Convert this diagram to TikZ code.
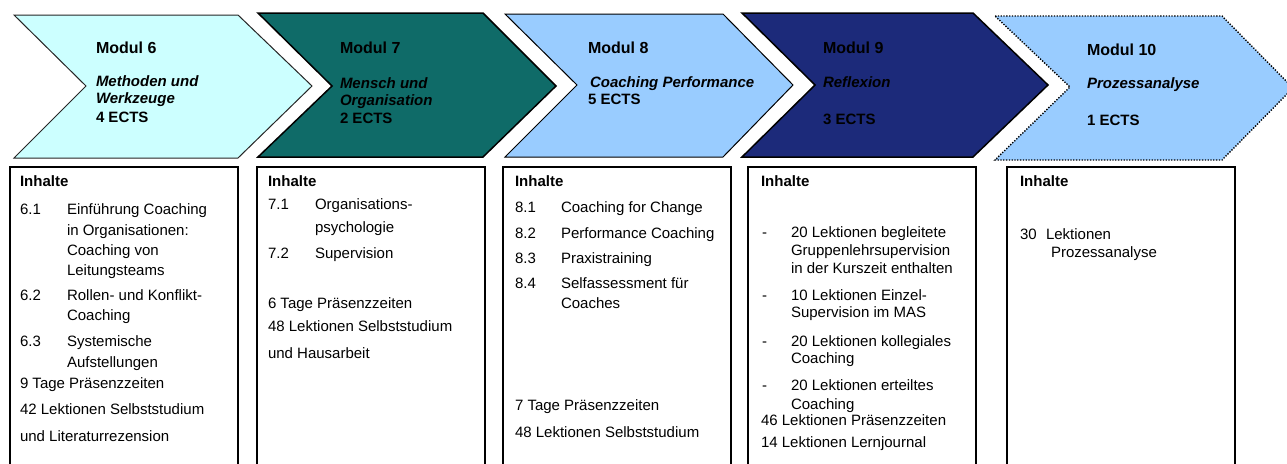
\documentclass[tikz,border=0pt]{standalone}
\usepackage{fontspec}
\setmainfont{Liberation Sans}
\definecolor{mcyan}{HTML}{CCFFFF}
\definecolor{mteal}{HTML}{0F6B68}
\definecolor{mlblue}{HTML}{99CCFF}
\definecolor{mnavy}{HTML}{1C2A7A}
\newcommand\PutText[4]{\node[tx] (#1) at (#2,#3) {#4};}
\newcommand\PutBold[4]{\node[tx,font=\bfseries\fontsize{15}{18}\selectfont] (#1) at (#2,#3) {#4};}
\begin{document}
\begin{tikzpicture}[x=1pt,y=-1pt,
  tx/.style={anchor=base west,inner sep=0pt,outer sep=0pt,font=\fontsize{15}{18}\selectfont},
  modhead/.style={tx,font=\bfseries\fontsize{16}{19}\selectfont},
  modsub/.style={tx,font=\bfseries\itshape\fontsize{15}{18}\selectfont},
  modects/.style={tx,font=\bfseries\fontsize{15}{18}\selectfont},
  chev/.style={draw=black,line width=1pt,line join=miter},
  chevdark/.style={draw=black,line width=1.5pt,line join=miter},
  chevdot/.style={draw=black,line width=1.4pt,dash pattern=on 1.3pt off 1.5pt},
  contentbox/.style={draw=black,line width=1.6pt,fill=white}]
\useasboundingbox (0,0) rectangle (1287,463);
\fill[white] (0,0) rectangle (1287,463);

% --- module chevrons ---
\draw[chev,fill=mcyan,draw=black!85] (14,15) -- (238,15) -- (312,86) -- (238,158) -- (14,158) -- (86,86) -- cycle;
\draw[chevdark,fill=mteal] (258,13) -- (483,13) -- (556,86) -- (483,157) -- (258,157) -- (332,86) -- cycle;
\draw[chev,fill=mlblue] (505,14) -- (723,14) -- (793,85) -- (723,157) -- (505,157) -- (577,85) -- cycle;
\draw[chevdark,fill=mnavy] (742,13) -- (973,13) -- (1048,85) -- (973,157) -- (742,157) -- (815,85) -- cycle;
\draw[chevdot,fill=mlblue] (995,16) -- (1222,16) -- (1293,88) -- (1222,160) -- (995,160) -- (1070,87) -- cycle;

% --- chevron labels ---
\node[modhead] (h6) at (96,53) {Modul 6};
\node[modsub] (s6a) at (96,86) {Methoden und};
\node[modsub] (s6b) at (96,103) {Werkzeuge};
\node[modects] (e6) at (96,122) {4 ECTS};

\node[modhead] (h7) at (340,53) {Modul 7};
\node[modsub] (s7a) at (340,88) {Mensch und};
\node[modsub] (s7b) at (340,105) {Organisation};
\node[modects] (e7) at (340,123) {2 ECTS};

\node[modhead] (h8) at (588,53) {Modul 8};
\node[modsub] (s8) at (590,87) {Coaching Performance};
\node[modects] (e8) at (588,104) {5 ECTS};

\node[modhead] (h9) at (823,53) {Modul 9};
\node[modsub] (s9) at (823,87) {Reflexion};
\node[modects] (e9) at (823,124) {3 ECTS};

\node[modhead] (h10) at (1087,55) {Modul 10};
\node[modsub] (s10) at (1087,88) {Prozessanalyse};
\node[modects] (e10) at (1087,125) {1 ECTS};

% --- content boxes (continue below the lower edge) ---
\draw[contentbox] (10,167) rectangle (238,490);
\draw[contentbox] (257,167) rectangle (485,490);
\draw[contentbox] (503,167) rectangle (731,490);
\draw[contentbox] (748,167) rectangle (976,490);
\draw[contentbox] (1007,167) rectangle (1235,490);

% Modul 6 contents
\PutBold{i6}{20}{186}{Inhalte}
\PutText{n61}{20}{214}{6.1}
\PutText{t61a}{67}{214}{Einführung Coaching}
\PutText{t61b}{67}{235}{in Organisationen:}
\PutText{t61c}{67}{255}{Coaching von}
\PutText{t61d}{67}{275}{Leitungsteams}
\PutText{n62}{20}{300}{6.2}
\PutText{t62a}{67}{300}{Rollen- und Konflikt-}
\PutText{t62b}{67}{320}{Coaching}
\PutText{n63}{20}{346}{6.3}
\PutText{t63a}{67}{346}{Systemische}
\PutText{t63b}{67}{367}{Aufstellungen}
\PutText{f6a}{20}{388}{9 Tage Präsenzzeiten}
\PutText{f6b}{20}{414}{42 Lektionen Selbststudium}
\PutText{f6c}{20}{441}{und Literaturrezension}

% Modul 7 contents
\PutBold{i7}{268}{186}{Inhalte}
\PutText{n71}{268}{209}{7.1}
\PutText{t71a}{315}{209}{Organisations-}
\PutText{t71b}{315}{232}{psychologie}
\PutText{n72}{268}{258}{7.2}
\PutText{t72}{315}{258}{Supervision}
\PutText{f7a}{268}{308}{6 Tage Präsenzzeiten}
\PutText{f7b}{268}{331}{48 Lektionen Selbststudium}
\PutText{f7c}{268}{358}{und Hausarbeit}

% Modul 8 contents
\PutBold{i8}{515}{186}{Inhalte}
\PutText{n81}{515}{212}{8.1}
\PutText{t81}{561}{212}{Coaching for Change}
\PutText{n82}{515}{238}{8.2}
\PutText{t82}{561}{238}{Performance Coaching}
\PutText{n83}{515}{263}{8.3}
\PutText{t83}{561}{263}{Praxistraining}
\PutText{n84}{515}{288}{8.4}
\PutText{t84a}{561}{288}{Selfassessment für}
\PutText{t84b}{561}{308}{Coaches}
\PutText{f8a}{515}{410}{7 Tage Präsenzzeiten}
\PutText{f8b}{515}{437}{48 Lektionen Selbststudium}

% Modul 9 contents
\PutBold{i9}{761}{186}{Inhalte}
\PutText{d91}{762}{237}{-}
\PutText{t91a}{791}{237}{20 Lektionen begleitete}
\PutText{t91b}{791}{255}{Gruppenlehrsupervision}
\PutText{t91c}{791}{273}{in der Kurszeit enthalten}
\PutText{d92}{762}{300}{-}
\PutText{t92a}{791}{300}{10 Lektionen Einzel-}
\PutText{t92b}{791}{317}{Supervision im MAS}
\PutText{d93}{762}{346}{-}
\PutText{t93a}{791}{346}{20 Lektionen kollegiales}
\PutText{t93b}{791}{363}{Coaching}
\PutText{d94}{762}{390}{-}
\PutText{t94a}{791}{390}{20 Lektionen erteiltes}
\PutText{t94b}{791}{409}{Coaching}
\PutText{f9a}{761}{425}{46 Lektionen Präsenzzeiten}
\PutText{f9b}{761}{447}{14 Lektionen Lernjournal}

% Modul 10 contents
\PutBold{i10}{1020}{186}{Inhalte}
\PutText{n101}{1020}{239}{30}
\PutText{t101a}{1046}{239}{Lektionen}
\PutText{t101b}{1051}{257}{Prozessanalyse}
\end{tikzpicture}
\end{document}
